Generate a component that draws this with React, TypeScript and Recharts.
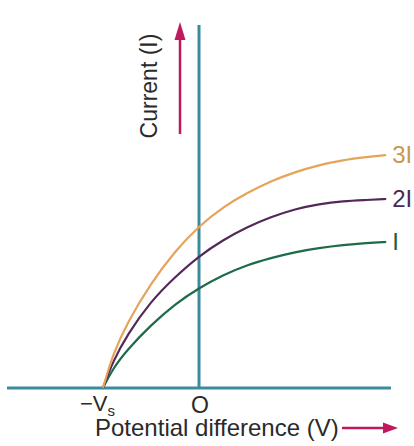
import React from "react";
import { LineChart, Line, XAxis, YAxis, ReferenceLine } from "recharts";

// potential difference, in units of the stopping potential Vs
const volts = [-1, -0.9, -0.75, -0.5, -0.25, 0, 0.25, 0.5, 0.75, 1, 1.25, 1.5, 1.75, 1.95];
// photocurrent for three intensities (arbitrary units)
const currentI = [0, 0.19, 0.38, 0.63, 0.84, 1.0, 1.13, 1.23, 1.3, 1.36, 1.4, 1.43, 1.45, 1.46];
const current2I = [0, 0.26, 0.53, 0.87, 1.11, 1.32, 1.48, 1.61, 1.71, 1.79, 1.84, 1.87, 1.88, 1.89];
const current3I = [0, 0.33, 0.65, 1.05, 1.37, 1.62, 1.81, 1.95, 2.07, 2.16, 2.23, 2.28, 2.31, 2.33];

const seriesNames = ["I", "2I", "3I"];
const tickValues = [-1, 0];

const data = volts.map((v, i) => ({
  v,
  i1: currentI[i],
  i2: current2I[i],
  i3: current3I[i],
}));

const FONT = "'Liberation Sans', Arial, sans-serif";
const AXIS = "#3a8c9c";
const ARROW = "#c0185c";

const endLabel = (name: string, color: string) => (props: any) => {
  if (props.index !== data.length - 1) return <g />;
  return (
    <text
      x={props.x + 6}
      y={props.y}
      dy={8}
      fontSize={24}
      fontFamily={FONT}
      fill={color}
    >
      {name}
    </text>
  );
};

function VoltTick(props: any) {
  const { x, y, payload } = props;
  if (payload.value === 0) {
    return (
      <text x={x + 1} y={y + 17} textAnchor="middle" fontSize={23} fontFamily={FONT} fill="#2a2a2a">
        O
      </text>
    );
  }
  return (
    <text x={x - 23} y={y + 15} fontSize={22} fontFamily={FONT} fill="#2a2a2a">
      −V
      <tspan fontSize={15} dy={5}>
        s
      </tspan>
    </text>
  );
}

export default function App() {
  return (
    <div style={{ position: "absolute", left: 0, top: 0, background: "#fff" }}>
      <LineChart
        width={414}
        height={446}
        data={data}
        margin={{ top: 25, right: 23, left: 7, bottom: 0 }}
      >
        <XAxis
          type="number"
          dataKey="v"
          domain={[-2, 2]}
          ticks={tickValues}
          axisLine={false}
          tickLine={false}
          height={58}
          tick={<VoltTick />}
          interval={0}
        />
        <YAxis hide domain={[0, 3.63]} />
        <ReferenceLine y={0} stroke={AXIS} strokeWidth={3} />
        <ReferenceLine x={0} stroke={AXIS} strokeWidth={3} />
        <Line
          dataKey="i1"
          type="basis"
          stroke="#1d6b48"
          strokeWidth={2.2}
          dot={false}
          isAnimationActive={false}
          label={endLabel(seriesNames[0], "#2b5a3c")}
        />
        <Line
          dataKey="i2"
          type="basis"
          stroke="#55285a"
          strokeWidth={2.2}
          dot={false}
          isAnimationActive={false}
          label={endLabel(seriesNames[1], "#4a2a52")}
        />
        <Line
          dataKey="i3"
          type="basis"
          stroke="#e6a35a"
          strokeWidth={2.2}
          dot={false}
          isAnimationActive={false}
          label={endLabel(seriesNames[2], "#c9974f")}
        />
        <g>
          <text
            transform="translate(157 86) rotate(-90)"
            textAnchor="middle"
            fontSize={23}
            fontFamily={FONT}
            fill="#2a2a2a"
          >
            Current (I)
          </text>
          <line x1={180} y1={134} x2={180} y2={36} stroke={ARROW} strokeWidth={2.5} />
          <polygon points="180,22 174.5,40 185.5,40" fill={ARROW} />
          <text x={95} y={436} fontSize={24} fontFamily={FONT} fill="#2a2a2a">
            Potential difference (V)
          </text>
          <line x1={342} y1={428} x2={386} y2={428} stroke={ARROW} strokeWidth={2.5} />
          <polygon points="398,428 383,422.5 383,433.5" fill={ARROW} />
        </g>
      </LineChart>
    </div>
  );
}
